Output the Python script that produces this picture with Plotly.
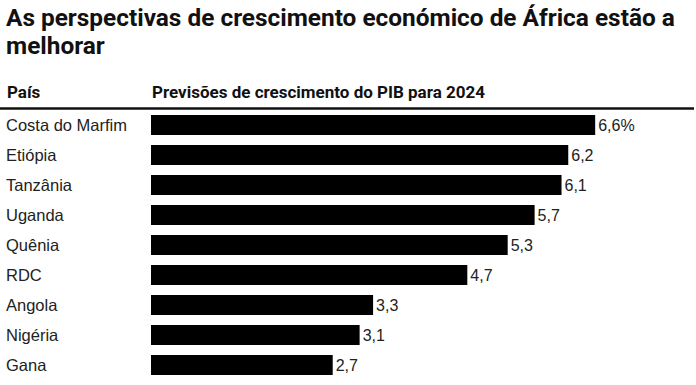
import plotly.graph_objects as go

countries = ["Costa do Marfim", "Etiópia", "Tanzânia", "Uganda", "Quênia", "RDC", "Angola", "Nigéria", "Gana"]
values = [6.6, 6.2, 6.1, 5.7, 5.3, 4.7, 3.3, 3.1, 2.7]
value_labels = ["6,6%", "6,2", "6,1", "5,7", "5,3", "4,7", "3,3", "3,1", "2,7"]

title_line1 = "As perspectivas de crescimento económico de África estão a"
title_line2 = "melhorar"
header_left = "País"
header_right = "Previsões de crescimento do PIB para 2024"

W, H = 696, 385
T, B = 110, 5
PH = H - T - B

def py(ypx):
    return (H - B - ypx) / PH

LABEL_FONT = "Liberation Sans, Arial, sans-serif"
HEAD_FONT = "Roboto, sans-serif"

fig = go.Figure(go.Bar(
    x=values, y=countries, orientation="h",
    marker=dict(color="#000000", line=dict(width=0)),
    text=value_labels, textposition="outside",
    textfont=dict(family=LABEL_FONT, size=16, color="#222222"),
    cliponaxis=False, hoverinfo="skip",
))

annotations = []
for c in countries:
    annotations.append(dict(
        x=4 / W, xref="paper", y=c, yref="y", text=c, showarrow=False,
        xanchor="left", yanchor="middle",
        font=dict(family=LABEL_FONT, size=16.5, color="#222222"),
    ))
for txt, ypx in [(title_line1, 18), (title_line2, 45)]:
    annotations.append(dict(
        x=4 / W, xref="paper", y=py(ypx), yref="paper", text="<b>" + txt + "</b>",
        showarrow=False, xanchor="left", yanchor="middle",
        font=dict(family=HEAD_FONT, size=24.4, color="#111111"),
    ))
annotations.append(dict(
    x=5 / W, xref="paper", y=py(92), yref="paper", text="<b>" + header_left + "</b>",
    showarrow=False, xanchor="left", yanchor="middle",
    font=dict(family=HEAD_FONT, size=17, color="#111111"),
))
annotations.append(dict(
    x=150 / W, xref="paper", y=py(92), yref="paper", text="<b>" + header_right + "</b>",
    showarrow=False, xanchor="left", yanchor="middle",
    font=dict(family=HEAD_FONT, size=17, color="#111111"),
))

fig.update_layout(
    width=W, height=H,
    margin=dict(l=0, r=0, t=T, b=B, pad=0),
    paper_bgcolor="white", plot_bgcolor="white",
    showlegend=False,
    bargap=1 / 3,
    xaxis=dict(domain=[151 / W, 1], range=[0, 545 / 67.3], visible=False, fixedrange=True),
    yaxis=dict(categoryorder="array", categoryarray=countries, autorange="reversed",
               visible=False, fixedrange=True),
    annotations=annotations,
    shapes=[dict(type="line", xref="paper", yref="paper", x0=0, x1=694 / W,
                 y0=py(108.5), y1=py(108.5), line=dict(color="#111111", width=2.5))],
)

fig.write_html("out.html", config={"displayModeBar": False},
               post_script="document.body.style.margin='0';document.body.style.overflow='hidden';")
